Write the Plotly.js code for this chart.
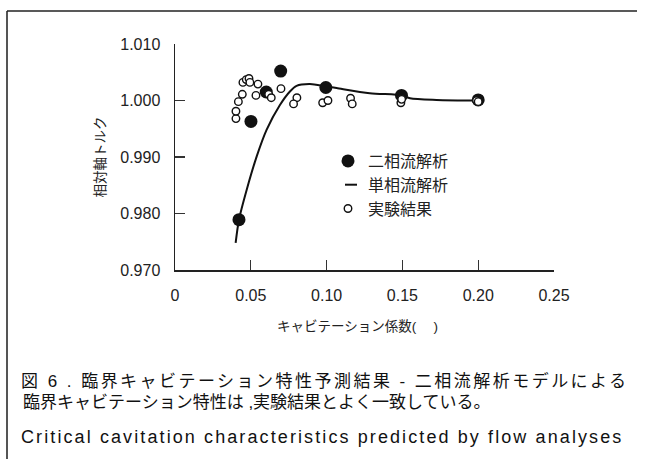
<!DOCTYPE html>
<html>
<head>
<meta charset="utf-8">
<script src="https://cdn.plot.ly/plotly-3.0.1.min.js"></script>
<style>
html,body{margin:0;padding:0;background:#fff;}
#chart{width:645px;height:459px;}
</style>
</head>
<body>
<div id="chart"></div>
<script>
// ---- data ----
const twoPhaseX = [0.0422, 0.0501, 0.0602, 0.0697, 0.0995, 0.1494, 0.2000];
const twoPhaseY = [0.9789, 0.9963, 1.0015, 1.0052, 1.0023, 1.0009, 1.0001];

const singlePhaseX = [0.040, 0.0422, 0.0473, 0.0539, 0.0604, 0.0692, 0.0758, 0.0802, 0.089, 0.0995, 0.1066, 0.1285, 0.150, 0.155, 0.1725, 0.200];
const singlePhaseY = [0.9748, 0.9789, 0.9842, 0.9901, 0.9948, 0.9992, 1.0016, 1.0026, 1.0029, 1.0025, 1.0022, 1.0013, 1.0009, 1.0004, 1.0001, 1.0000];

const expX = [0.0402, 0.0402, 0.0418, 0.0444, 0.0448, 0.0470, 0.0488, 0.0494, 0.0547, 0.0534, 0.0618, 0.0635, 0.0699, 0.0804, 0.0782, 0.0974, 0.1009, 0.1158, 0.1169, 0.1490, 0.1495, 0.1989, 0.2000];
const expY = [0.9968, 0.9981, 0.9998, 1.0011, 1.0032, 1.0037, 1.0039, 1.0032, 1.0029, 1.0009, 1.0011, 1.0005, 1.0021, 1.0005, 0.9994, 0.9996, 1.0000, 1.0004, 0.9994, 0.9996, 1.0002, 1.0000, 0.9998];

const xTickVals = [0, 0.05, 0.10, 0.15, 0.20, 0.25];
const xTickText = ['0', '0.05', '0.10', '0.15', '0.20', '0.25'];
const yTickVals = [0.970, 0.980, 0.990, 1.000, 1.010];
const yTickText = ['0.970', '0.980', '0.990', '1.000', '1.010'];

const seriesNames = ['二相流解析', '単相流解析', '実験結果'];
const xTitle = 'キャビテーション係数(　 )';
const yTitle = '相対軸トルク';
const captionLines = [
  '図 6 . 臨界キャビテーション特性予測結果 - 二相流解析モデルによる',
  '臨界キャビテーション特性は ,実験結果とよく一致している。',
  'Critical cavitation characteristics predicted by flow analyses'
];

// ---- layout helpers (pixel -> paper) ----
const W = 645, H = 459;
const M = {l: 175, r: 91, t: 44, b: 189};
const PW = W - M.l - M.r, PH = H - M.t - M.b;
const px = x => (x - M.l) / PW;
const py = y => (H - M.b - y) / PH;

const JP = '"Liberation Sans", "Noto Sans CJK JP", sans-serif';
const LAT = '"Liberation Sans", Arial, sans-serif';

const CAP_LEFT = 21;
const capSize = [17, 17, 18];
const capFont = [JP, JP, LAT];
const capTarget = [605, null, 600];   // justified lines fill this width

const traces = [
  {
    x: singlePhaseX, y: singlePhaseY, name: seriesNames[1], type: 'scatter', mode: 'lines',
    line: {color: '#111', width: 2, shape: 'spline', smoothing: 0.8}, legendrank: 2
  },
  {
    x: twoPhaseX, y: twoPhaseY, name: seriesNames[0], type: 'scatter', mode: 'markers',
    marker: {color: '#111', size: 13, line: {width: 0}}, legendrank: 1
  },
  {
    x: expX, y: expY, name: seriesNames[2], type: 'scatter', mode: 'markers',
    marker: {color: '#fff', size: 7.5, line: {color: '#111', width: 1.4}}, legendrank: 3
  }
];

const axisCommon = {
  showgrid: false, zeroline: false, showline: true, linecolor: '#222', linewidth: 1.5,
  ticks: 'inside', ticklen: 10, tickcolor: '#333', tickwidth: 1.2,
  tickfont: {family: LAT, size: 16, color: '#222'}
};

const layout = {
  width: W, height: H,
  margin: M,
  paper_bgcolor: '#fff', plot_bgcolor: '#fff',
  showlegend: true,
  legend: {
    x: px(328), y: py(144), xanchor: 'left', yanchor: 'top',
    font: {family: JP, size: 16, color: '#222'},
    bgcolor: 'rgba(0,0,0,0)', itemwidth: 30, tracegroupgap: 0
  },
  xaxis: Object.assign({}, axisCommon, {
    range: [0, 0.25], tickvals: xTickVals, ticktext: xTickText,
    ticklabelstandoff: 10
  }),
  yaxis: Object.assign({}, axisCommon, {
    range: [0.970, 1.010], tickvals: yTickVals, ticktext: yTickText,
    ticklabelstandoff: 10,
    title: {text: yTitle, font: {family: JP, size: 13.5, color: '#222'}, standoff: 11}
  }),
  annotations: [
    {xref: 'paper', yref: 'paper', x: px(CAP_LEFT), y: py(381), xanchor: 'left', yanchor: 'middle',
     text: captionLines[0], showarrow: false, font: {family: JP, size: capSize[0], color: '#111'}},
    {xref: 'paper', yref: 'paper', x: px(CAP_LEFT), y: py(402), xanchor: 'left', yanchor: 'middle',
     text: captionLines[1], showarrow: false, font: {family: JP, size: capSize[1], color: '#111'}},
    {xref: 'paper', yref: 'paper', x: px(CAP_LEFT), y: py(437), xanchor: 'left', yanchor: 'middle',
     text: captionLines[2], showarrow: false, font: {family: LAT, size: capSize[2], color: '#111'}},
    // x-axis title
    {xref: 'paper', yref: 'paper', x: px(275), y: py(326), xanchor: 'left', yanchor: 'middle',
     text: xTitle, showarrow: false, font: {family: JP, size: 13.5, color: '#222'}}
  ],
  shapes: [
    {type: 'line', xref: 'paper', yref: 'paper', x0: px(7), x1: px(7), y0: py(11), y1: py(459),
     line: {color: '#555', width: 2}},
    {type: 'line', xref: 'paper', yref: 'paper', x0: px(7), x1: px(637), y0: py(11), y1: py(11),
     line: {color: '#222', width: 1.5}}
  ]
};

Plotly.newPlot('chart', traces, layout, {displayModeBar: false, staticPlot: true}).then(gd => {
  // shorten the legend line sample to a short dash like the reference
  gd.querySelectorAll('.legend .legendlines path').forEach(p => p.setAttribute('d', 'M17,0h12'));
  // justify the caption lines that are justified in the reference
  const rootLeft = gd.getBoundingClientRect().left;
  capTarget.forEach((target, i) => {
    if (!target) return;
    const t = gd.querySelector('g.annotation[data-index="' + i + '"] text.annotation-text');
    if (!t) return;
    const n = Array.from(captionLines[i]).length;
    const w0 = t.getBoundingClientRect().width;
    const ls = Math.max(0, (target - w0) / (n - 1));
    t.style.letterSpacing = ls.toFixed(2) + 'px';
    const left = t.getBoundingClientRect().left - rootLeft;
    const x = parseFloat(t.getAttribute('x')) || 0;
    t.setAttribute('x', x + (CAP_LEFT - left));
  });
});
</script>
</body>
</html>
